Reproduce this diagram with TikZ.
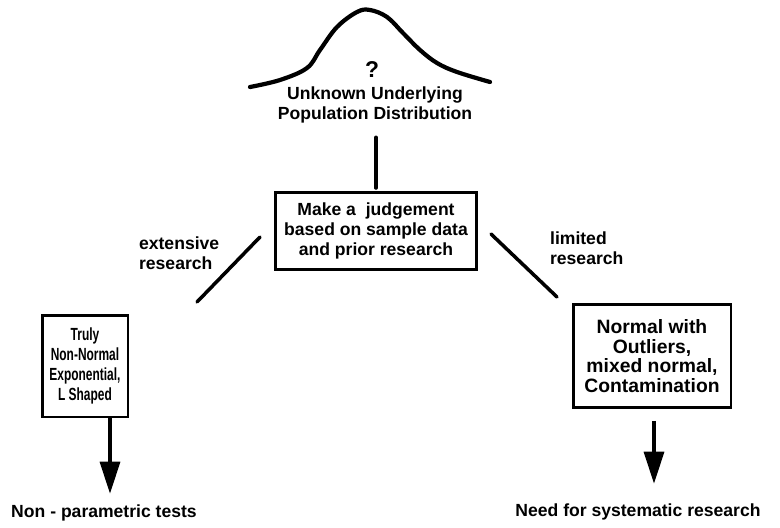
\documentclass[tikz,border=0pt]{standalone}
\usepackage{fontspec}
\setmainfont{Liberation Sans}
\newfontfamily\narrowsf{Liberation Sans}[FakeStretch=0.68]
\usetikzlibrary{arrows.meta,positioning,calc}

\begin{document}
\begin{tikzpicture}[
    x=0.02cm, y=-0.02cm,
    box/.style={
        draw=black,
        fill=white,
        line width=1.7pt,
        align=center,
        inner sep=2pt,
        font=\fontsize{10}{11.4}\selectfont\bfseries
    },
    lbl/.style={
        align=center,
        inner sep=1pt,
        font=\fontsize{10}{11.4}\selectfont\bfseries
    },
    link/.style={line width=2pt, line cap=round},
    flow/.style={line width=1.8pt, -{Triangle[length=0.64cm, width=0.4cm]}}
]
    \useasboundingbox (0,0) rectangle (780,527);

    % Bell curve
    \draw[line width=2.4pt, line cap=round, line join=round] plot[smooth, tension=0.6] coordinates {
        (250,87) (280,80) (307,68) (320,50) (337,27) (357,12) (370,10)
        (387,17) (403,33) (420,50) (437,63) (457,72) (490,82)};
    \node[lbl, font=\fontsize{13}{14}\selectfont\bfseries] (qmark) at (372,70) {?};
    \node[lbl] (popl) at (375,105) {Unknown Underlying\\Population Distribution};

    % Judgement box
    \node[box, minimum width=4.02cm, minimum height=1.54cm] (judge) at (376,231)
        {Make a\ \ judgement\\based on sample data\\and prior research};
    \draw[link, shorten <=0.24cm, shorten >=0.06cm] (judge.north |- popl.south) -- (judge.north);

    % Branches
    \node[lbl, align=left, anchor=west] (extensive) at (137,253) {extensive\\research};
    \node[lbl, align=left, anchor=west] (limited) at (548,248) {limited\\research};
    \coordinate (extA) at (260,237);
    \coordinate (extB) at (197,302);
    \coordinate (limA) at (491,234);
    \coordinate (limB) at (557,297);
    \draw[link] (extA) -- (extB);
    \draw[link] (limA) -- (limB);

    % Outcome boxes
    \node[box, minimum width=1.72cm, minimum height=2.04cm, font=\fontsize{10}{11.4}\selectfont\narrowsf\bfseries] (nonnormal) at (85,366)
        {Truly\\Non-Normal\\Exponential,\\L Shaped};
    \node[box, minimum width=3.16cm, minimum height=2.06cm, font=\fontsize{11}{11.2}\selectfont\bfseries] (outliers) at (652,356)
        {Normal with\\Outliers,\\mixed normal,\\Contamination};

    % Conclusions
    \node[lbl] (nptests) at (104,513) {Non - parametric tests};
    \node[lbl] (sysres) at (638,512) {Need for systematic research};
    \draw[flow] ($(nonnormal.south)+(25,0)$) -- ($(nptests.north)+(6,-9)$);
    \draw[flow] ($(outliers.south)+(2,12)$) -- ($(sysres.north)+(16,-18)$);
\end{tikzpicture}
\end{document}
